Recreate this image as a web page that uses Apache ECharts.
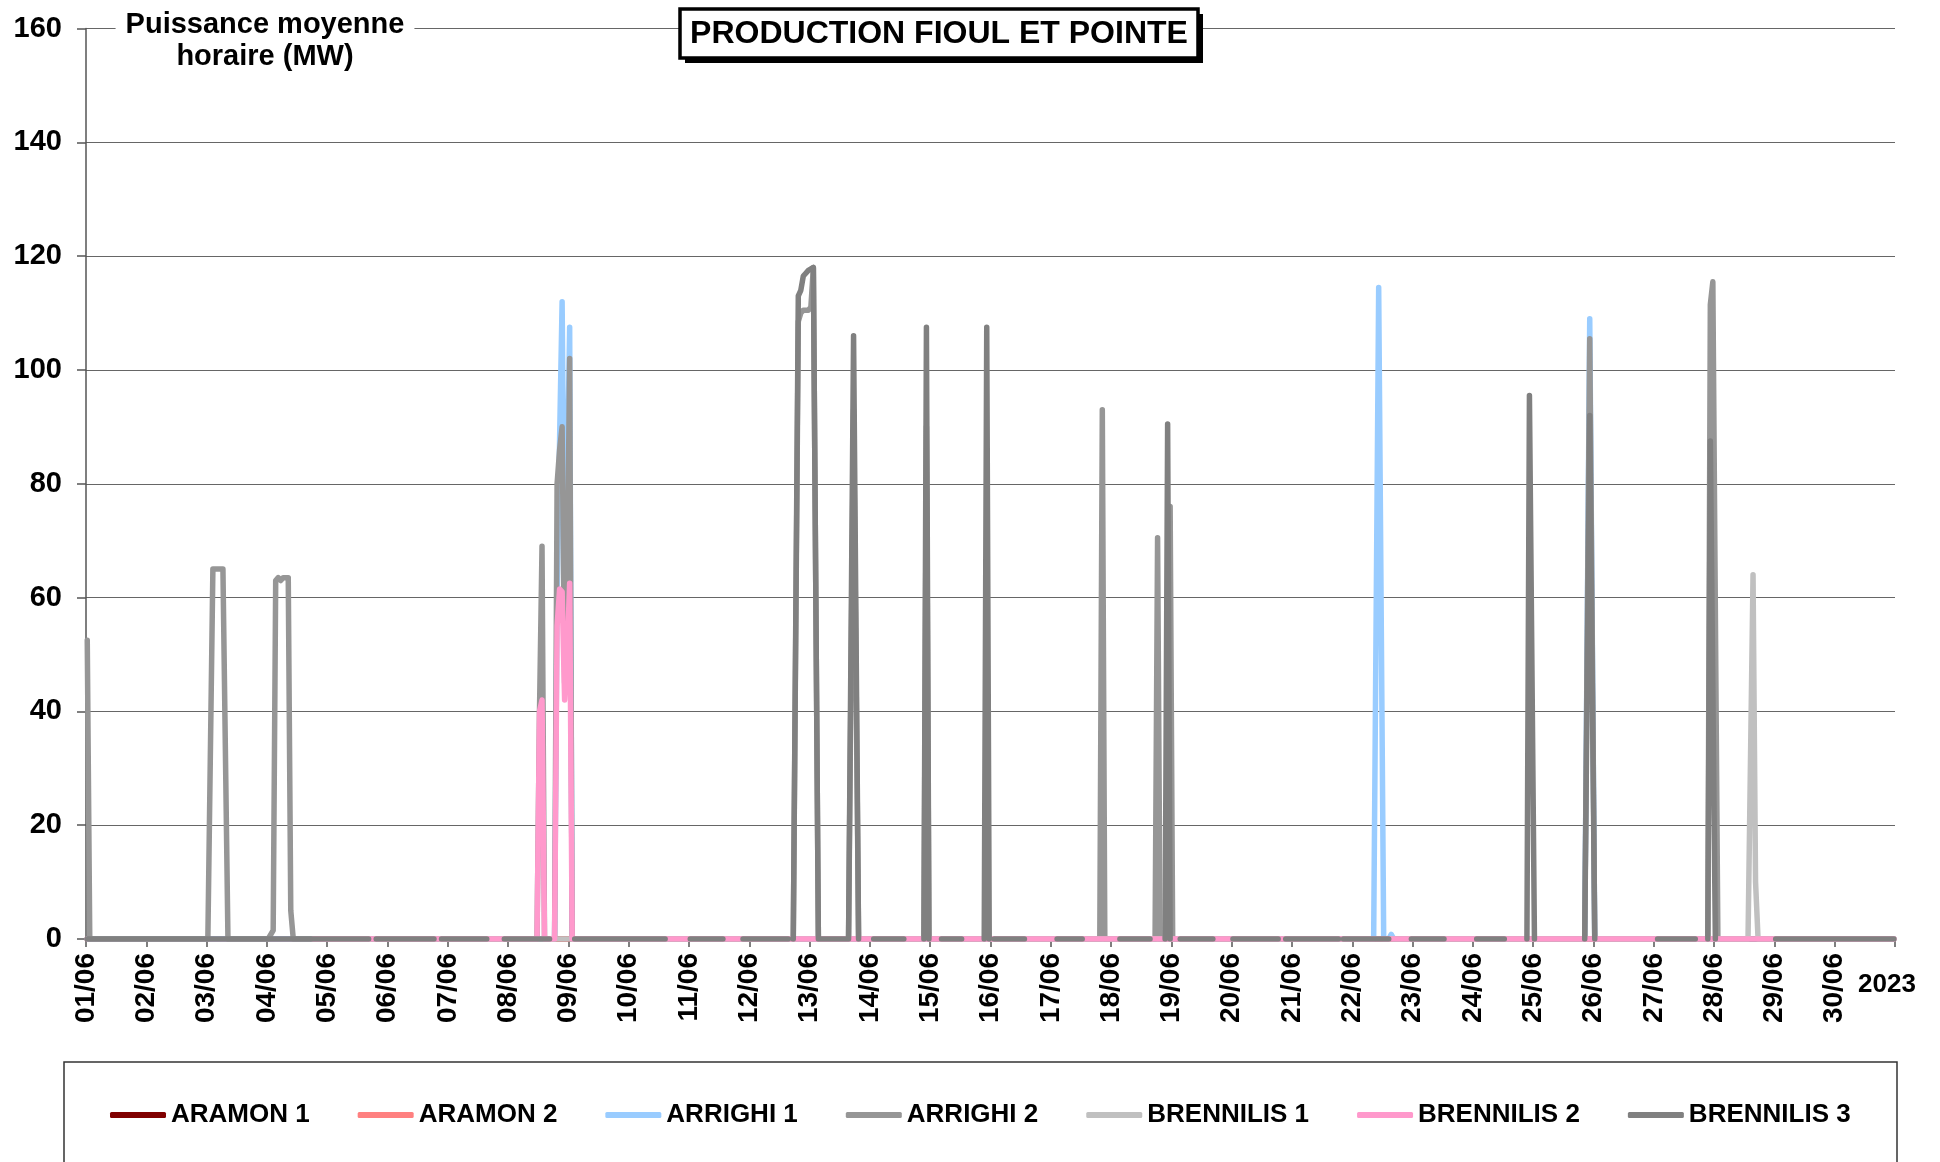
<!DOCTYPE html>
<html>
<head>
<meta charset="utf-8">
<title>Production fioul et pointe</title>
<script src="https://cdn.jsdelivr.net/npm/echarts@6/dist/echarts.min.js"></script>
<style>
  html, body { margin: 0; padding: 0; background: #fff; }
  #chart { width: 1940px; height: 1162px; }
</style>
</head>
<body>
<div id="chart"></div>
<script>
// x axis: hours since 01/06 00:00 (one point per hour, 30 days)
const dayLabels = ['01/06', '02/06', '03/06', '04/06', '05/06', '06/06', '07/06', '08/06', '09/06', '10/06',
  '11/06', '12/06', '13/06', '14/06', '15/06', '16/06', '17/06', '18/06', '19/06', '20/06',
  '21/06', '22/06', '23/06', '24/06', '25/06', '26/06', '27/06', '28/06', '29/06', '30/06']
const yearLabel = '2023'
const seriesNames = ['ARAMON 1', 'ARAMON 2', 'ARRIGHI 1', 'ARRIGHI 2', 'BRENNILIS 1', 'BRENNILIS 2', 'BRENNILIS 3']

// [hour, MW] breakpoints; null = no data
const aramon1 = [[0, 0], [719, 0]]
const aramon2 = [[0, 0], [719, 0]]
const arrighi1 = [[0, 0], [186, 0], [187, 60], [188, 88], [189, 112], [190, 62], [191, 80], [192, 107.5], [193, 0],
  [512, 0], [514, 114.5], [516, 0], [518, 0], [519, 0.8], [520, 0],
  [596, 0], [598, 109], [600, 0], [719, 0]]
const arrighi2 = [[0, 52.5], [1, 0], [48, 0], [50, 65], [54, 65], [56, 0],
  [72, 0], [74, 1.5], [75, 63], [76, 63.5], [77, 63], [78, 63.5], [80, 63.5], [81, 5], [82, 0],
  [179, 0], [180, 40], [181, 69], [182, 0],
  [186, 0], [187, 80], [188, 86], [189, 90], [190, 45], [191, 60], [192, 102], [193, 0],
  [281, 0], [283, 108.5], [284, 110], [285, 110.5], [287, 110.5], [288, 111], [289, 118], [291, 0],
  [303, 0], [305, 93], [307, 0], [333, 0], [334, 90], [335, 0],
  [403, 0], [404, 93], [405, 0], [425, 0], [426, 70.5], [427, 0], [430, 0], [431, 76], [432, 0],
  [596, 0], [598, 105.5], [600, 0], [645, 0], [646, 111.5], [647, 115.5], [649, 0], [719, 0]]
const brennilis1 = [[90, 0], [661, 0], [663, 64], [664, 10], [665, 0], [719, 0]]
const brennilis2 = [[90, 0], [179, 0], [180, 40], [181, 42], [182, 0],
  [186, 0], [187, 55], [188, 61.5], [189, 61], [190, 42], [191, 50], [192, 62.5], [193, 0], [719, 0]]
const brennilis3 = [[0, 0], [112, 0], [113, null], [115, 0], [138, 0], [139, null], [141, 0], [159, 0], [160, null],
  [166, 0], [184, 0], [185, null], [194, 0], [230, 0], [231, null],
  [240, 0], [253, 0], [254, null], [261, 0], [279, 0], [280, null],
  [281, 0], [283, 113], [284, 114], [285, 116.5], [286, 117], [287, 117.5], [289, 118], [291, 0],
  [303, 0], [305, 106], [307, 0], [308, null], [313, 0], [325, 0], [326, null],
  [333, 0], [334, 107.5], [335, 0], [336, null], [340, 0], [348, 0], [349, null],
  [357, 0], [358, 107.5], [359, 0], [360, null], [361, 0], [373, 0], [374, null],
  [386, 0], [396, 0], [397, null], [411, 0], [423, 0], [424, null],
  [429, 0], [430, 90.5], [431, 0], [432, null], [435, 0], [448, 0], [449, null],
  [456, 0], [474, 0], [475, null], [477, 0], [498, 0], [499, null], [500, 0], [518, 0], [519, null],
  [527, 0], [540, 0], [541, null], [553, 0], [564, 0], [565, null],
  [573, 0], [574, 95.5], [576, 0], [577, null], [596, 0], [598, 92], [600, 0], [601, null],
  [625, 0], [640, 0], [641, null], [645, 0], [646, 87.5], [648, 0], [649, null], [672, 0], [719, 0]]

const seriesData = [aramon1, aramon2, arrighi1, arrighi2, brennilis1, brennilis2, brennilis3]
const colors = ['#800000', '#ff8080', '#99ccff', '#969696', '#c0c0c0', '#ff99cc', '#808080']

const FONT = 'Liberation Sans, Arial, sans-serif'

const chart = echarts.init(document.getElementById('chart'))

chart.setOption({
    animation: false,
    color: colors,
    grid: { left: 86, right: 45, top: 28.5, bottom: 223 },
    legend: {
        left: 105,
        top: 1097,
        itemWidth: 56,
        itemHeight: 6,
        itemGap: 48,
        icon: 'roundRect',
        data: seriesNames,
        textStyle: { fontFamily: FONT, fontSize: 26, fontWeight: 'bold', color: '#000' }
    },
    xAxis: {
        type: 'value',
        min: 0,
        max: 720,
        interval: 24,
        axisLine: { show: true, lineStyle: { color: '#555', width: 1.5 } },
        axisTick: { show: true, length: 8, lineStyle: { color: '#555', width: 1.5 } },
        splitLine: { show: false },
        axisLabel: {
            rotate: 90,
            margin: 14,
            fontFamily: FONT,
            fontSize: 28,
            fontWeight: 'bold',
            color: '#000',
            formatter: (v) => dayLabels[Math.round(v / 24)] || ''
        }
    },
    yAxis: {
        type: 'value',
        min: 0,
        max: 160,
        interval: 20,
        axisLine: { show: true, lineStyle: { color: '#555', width: 1.5 } },
        axisTick: { show: true, length: 9, lineStyle: { color: '#555', width: 1.5 } },
        splitLine: { show: true, lineStyle: { color: '#666', width: 1.2 } },
        axisLabel: {
            margin: 24,
            fontFamily: FONT,
            fontSize: 29,
            fontWeight: 'bold',
            color: '#000'
        }
    },
    series: seriesNames.map((name, i) => ({
        name: name,
        type: 'line',
        showSymbol: false,
        symbol: 'none',
        connectNulls: false,
        data: seriesData[i].map(p => [p[0] + 0.5, p[1]]),
        lineStyle: { width: 5.5, color: colors[i], cap: 'round', join: 'round' }
    })),
    graphic: [
        // axis name over the top gridline
        {
            type: 'text',
            x: 265,
            y: 9,
            z: 10,
            style: {
                text: 'Puissance moyenne\nhoraire (MW)',
                align: 'center',
                font: 'bold 29px ' + FONT,
                lineHeight: 32,
                fill: '#000',
                backgroundColor: '#fff',
                padding: [0, 10]
            }
        },
        // title box with shadow
        { type: 'rect', shape: { x: 685, y: 14, width: 518, height: 49 }, style: { fill: '#000' }, z: 10 },
        { type: 'rect', shape: { x: 680, y: 9, width: 518, height: 49 }, style: { fill: '#fff', stroke: '#000', lineWidth: 3.5 }, z: 11 },
        {
            type: 'text',
            x: 939,
            y: 34,
            z: 12,
            style: {
                text: 'PRODUCTION FIOUL ET POINTE',
                align: 'center',
                verticalAlign: 'middle',
                font: 'bold 32px ' + FONT,
                fill: '#000'
            }
        },
        // year label at the end of the axis
        {
            type: 'text',
            x: 1858,
            y: 985,
            style: {
                text: yearLabel,
                verticalAlign: 'middle',
                font: 'bold 26px ' + FONT,
                fill: '#000'
            }
        },
        // legend frame
        {
            type: 'rect',
            shape: { x: 64, y: 1062, width: 1833, height: 160 },
            style: { fill: 'none', stroke: '#333', lineWidth: 1.5 }
        }
    ]
})
</script>
</body>
</html>
